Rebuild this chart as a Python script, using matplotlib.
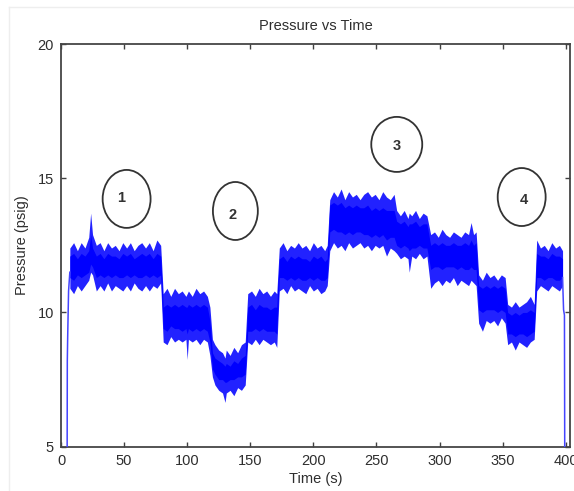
import matplotlib
matplotlib.use("Agg")
import matplotlib.pyplot as plt
from matplotlib.patches import Ellipse
from matplotlib.lines import Line2D

plt.rcParams['font.family'] = ['Liberation Sans', 'DejaVu Sans']

# ---- pressure record: envelope of the noisy trace (psig) ----
time_s = [
    7, 10, 13, 16, 19, 22, 23.5, 25, 28, 31, 34, 37, 40, 43, 46, 49, 52, 55, 58, 61, 64, 67, 70, 73, 76, 79,
    81, 84, 87, 90, 93, 96, 99, 100, 101, 104, 107, 110, 113, 116,
    118, 120, 122, 125, 128, 130, 131, 134, 137, 140, 143, 146,
    148, 151, 154, 157, 160, 163, 166, 169, 171,
    173, 176, 179, 182, 185, 188, 191, 194, 197, 200, 203, 206, 209, 211,
    213, 216, 219, 222, 225, 228, 231, 234, 237, 240, 243, 246, 249, 252, 255, 258, 261, 264,
    266, 269, 272, 275, 276, 278, 281, 284, 287, 290,
    293, 296, 299, 302, 305, 308, 311, 314, 317, 320, 323, 325, 327, 329,
    331, 334, 337, 340, 343, 346, 349, 352,
    354, 357, 360, 363, 366, 369, 372, 375,
    377, 380, 383, 386, 389, 392, 395, 397.5,
]
outer_high = [
    12.4, 12.6, 12.3, 12.6, 12.4, 12.8, 13.7, 12.9, 12.5, 12.6, 12.3, 12.6, 12.4, 12.5, 12.3, 12.6, 12.4, 12.6, 12.3, 12.5, 12.6, 12.4, 12.6, 12.3, 12.7, 12.5,
    10.7, 10.9, 10.6, 10.9, 10.7, 10.8, 10.6, 10.7, 10.8, 10.6, 10.9, 10.7, 10.8, 10.6,
    10.2, 9.0, 8.8, 8.6, 8.5, 8.3, 8.6, 8.4, 8.7, 8.5, 8.8, 8.9,
    10.7, 10.8, 10.6, 10.9, 10.7, 10.8, 10.6, 10.8, 10.7,
    12.4, 12.6, 12.3, 12.5, 12.4, 12.6, 12.4, 12.5, 12.3, 12.6, 12.4, 12.5, 12.3, 12.5,
    14.2, 14.5, 14.3, 14.6, 14.2, 14.5, 14.3, 14.4, 14.2, 14.4, 14.5, 14.3, 14.4, 14.2, 14.5, 14.3, 14.2, 14.4,
    13.8, 13.6, 13.8, 13.5, 13.7, 13.6, 13.8, 13.5, 13.7, 13.6,
    12.9, 13.0, 12.8, 13.1, 12.9, 12.8, 13.0, 12.9, 12.8, 13.0, 12.9, 13.35, 12.9, 13.0,
    11.4, 11.2, 11.5, 11.3, 11.4, 11.2, 11.4, 11.3,
    10.3, 10.2, 10.4, 10.2, 10.3, 10.4, 10.6, 10.3,
    12.7, 12.4, 12.5, 12.3, 12.6, 12.4, 12.5, 12.3,
]
outer_low = [
    10.9, 10.7, 11.0, 10.8, 11.0, 11.2, 11.5, 11.4, 10.8, 11.0, 10.8, 11.1, 10.8, 11.0, 10.9, 10.8, 11.0, 10.8, 11.1, 10.9, 10.8, 11.0, 10.8, 11.0, 10.9, 11.1,
    8.9, 8.8, 9.1, 8.9, 9.0, 8.9, 9.0, 8.25, 9.0, 8.9, 9.0, 8.8, 9.0, 8.9,
    8.4, 7.6, 7.3, 7.1, 7.0, 6.65, 7.0, 7.1, 6.9, 7.2, 7.1, 7.3,
    8.9, 8.8, 9.0, 8.8, 9.0, 8.9, 8.8, 8.9, 8.7,
    10.8, 10.9, 10.7, 11.0, 10.8, 10.9, 10.8, 10.7, 11.0, 10.8, 10.9, 10.7, 10.8, 11.0,
    12.3, 12.6, 12.4, 12.5, 12.3, 12.6, 12.4, 12.5, 12.6, 12.4, 12.5, 12.3, 12.5, 12.4, 12.5, 12.1, 12.4, 12.3,
    12.2, 12.0, 12.1, 12.0, 11.5, 12.1, 12.0, 12.2, 12.0, 12.1,
    10.9, 11.1, 11.2, 11.0, 11.2, 11.1, 11.3, 11.0, 11.2, 11.1, 11.0, 11.2, 11.1, 11.0,
    9.6, 9.3, 9.7, 9.6, 9.7, 9.5, 9.8, 9.6,
    8.8, 8.9, 8.6, 8.9, 8.8, 8.7, 8.9, 9.0,
    10.8, 11.0, 10.9, 10.8, 11.0, 10.9, 10.8, 11.0,
]
core_high = [
    12.1, 12.2, 12.0, 12.2, 12.1, 12.3, 12.9, 12.4, 12.1, 12.2, 12.0, 12.2, 12.1, 12.1, 12.0, 12.2, 12.1, 12.2, 12.0, 12.1, 12.2, 12.1, 12.2, 12.0, 12.2, 12.1,
    10.2, 10.3, 10.2, 10.3, 10.2, 10.3, 10.2, 10.2, 10.3, 10.2, 10.3, 10.2, 10.3, 10.2,
    9.7, 8.5, 8.3, 8.2, 8.1, 8.0, 8.1, 8.0, 8.2, 8.1, 8.3, 8.4,
    10.2, 10.3, 10.1, 10.3, 10.2, 10.2, 10.1, 10.2, 10.2,
    12.0, 12.1, 11.9, 12.1, 12.0, 12.1, 12.0, 12.0, 11.9, 12.1, 12.0, 12.1, 11.9, 12.0,
    14.0, 14.1, 14.0, 14.1, 13.9, 14.0, 13.9, 14.0, 13.9, 13.9, 14.0, 13.8, 13.9, 13.8, 13.9, 13.8, 13.8, 13.8,
    13.4, 13.3, 13.4, 13.2, 13.3, 13.3, 13.4, 13.2, 13.3, 13.3,
    12.5, 12.6, 12.5, 12.6, 12.5, 12.5, 12.6, 12.5, 12.5, 12.6, 12.5, 12.7, 12.5, 12.6,
    11.0, 10.9, 11.0, 10.9, 11.0, 10.9, 11.0, 10.9,
    10.0, 9.9, 10.0, 9.9, 10.0, 10.0, 10.1, 10.0,
    12.2, 12.1, 12.1, 12.0, 12.2, 12.1, 12.1, 12.0,
]
core_low = [
    11.3, 11.2, 11.4, 11.3, 11.4, 11.5, 11.8, 11.7, 11.3, 11.4, 11.3, 11.4, 11.3, 11.4, 11.3, 11.3, 11.4, 11.3, 11.4, 11.3, 11.3, 11.4, 11.3, 11.4, 11.3, 11.4,
    9.4, 9.3, 9.5, 9.4, 9.4, 9.3, 9.4, 9.2, 9.4, 9.3, 9.4, 9.3, 9.4, 9.3,
    8.9, 7.9, 7.7, 7.5, 7.5, 7.4, 7.4, 7.5, 7.5, 7.6, 7.6, 7.7,
    9.3, 9.3, 9.4, 9.3, 9.4, 9.3, 9.3, 9.3, 9.2,
    11.3, 11.3, 11.2, 11.3, 11.2, 11.3, 11.2, 11.2, 11.3, 11.2, 11.3, 11.2, 11.2, 11.3,
    13.0, 13.1, 13.0, 13.0, 12.9, 13.0, 12.9, 13.0, 13.0, 12.9, 12.9, 12.8, 12.9, 12.8, 12.9, 12.7, 12.8, 12.8,
    12.5, 12.4, 12.5, 12.4, 12.3, 12.4, 12.4, 12.5, 12.4, 12.4,
    11.6, 11.7, 11.7, 11.6, 11.7, 11.7, 11.7, 11.6, 11.7, 11.6, 11.6, 11.7, 11.6, 11.6,
    10.1, 10.0, 10.1, 10.1, 10.1, 10.0, 10.1, 10.0,
    9.2, 9.2, 9.1, 9.2, 9.2, 9.1, 9.2, 9.3,
    11.3, 11.3, 11.2, 11.3, 11.3, 11.2, 11.2, 11.3,
]

# start-up and shut-down ramps of the trace
lead_in_t = [4.8, 5.0, 5.3, 6.0, 7.0]
lead_in_p = [3.0, 8.2, 9.1, 10.8, 11.5]
lead_out_t = [397.5, 398.3, 399.0, 399.3]
lead_out_p = [11.3, 10.1, 9.9, 3.0]

x_ticks = [0, 50, 100, 150, 200, 250, 300, 350, 400]
y_ticks = [5, 10, 15, 20]
region_labels = ["1", "2", "3", "4"]

# annotation ellipses: (centre time, centre pressure, width s, height psig)
region_marks = [(52.0, 14.23, 38.0, 2.16), (138.2, 13.78, 35.6, 2.16),
                (266.1, 16.26, 40.4, 2.05), (365.1, 14.30, 38.0, 2.16)]
label_offsets = [(-4.0, 0.03), (-2.0, -0.15), (-0.2, -0.05), (2.0, -0.11)]

fig = plt.figure(figsize=(5.74, 4.91), dpi=100)
ax = fig.add_axes([61 / 574, 1 - 446.7 / 491, 509 / 574, 402.7 / 491])

trace_blue = "#0000ff"
ax.fill_between(time_s, outer_low, outer_high, color="#2222ff", lw=0, zorder=2)
ax.fill_between(time_s, core_low, core_high, color=trace_blue, lw=0, zorder=3)
ax.plot(lead_in_t, lead_in_p, color="#4444ff", lw=1.1, zorder=3)
ax.plot(lead_out_t, lead_out_p, color="#4444ff", lw=1.1, zorder=3)

ax.set_xlim(0, 403.4)
ax.set_ylim(5, 20)
ax.set_xticks(x_ticks)
ax.set_yticks(y_ticks)

text_col = "#2e2e2e"
ax.tick_params(direction="in", length=3.3, width=1.0, top=True, right=True,
               labelsize=10.5, colors="#404040", labelcolor=text_col, pad=5)
for sp in ax.spines.values():
    sp.set_color("#454545")
    sp.set_linewidth(1.3)

ax.set_title("Pressure vs Time", fontsize=10.5, color=text_col, pad=10)
ax.set_xlabel("Time (s)", fontsize=10.5, color=text_col, labelpad=3)
ax.set_ylabel("Pressure (psig)", fontsize=10.5, color=text_col, labelpad=6)

for (cx, cy, w, h), lab, (dx, dy) in zip(region_marks, region_labels, label_offsets):
    ax.add_patch(Ellipse((cx, cy), w, h, fill=False, edgecolor="#333333",
                         lw=1.3, zorder=5, clip_on=False))
    ax.text(cx + dx, cy + dy, lab, ha="center", va="center", fontsize=10.5,
            fontweight="bold", color="#333333", zorder=6)

# faint frame around the figure
fig.add_artist(Line2D([9 / 574, 1.0], [1 - 7 / 491, 1 - 7 / 491], color="#eeeeee", lw=1.0))
fig.add_artist(Line2D([9 / 574, 9 / 574], [0.0, 1 - 7 / 491], color="#eeeeee", lw=1.0))

fig.savefig("out.png", dpi=100)
